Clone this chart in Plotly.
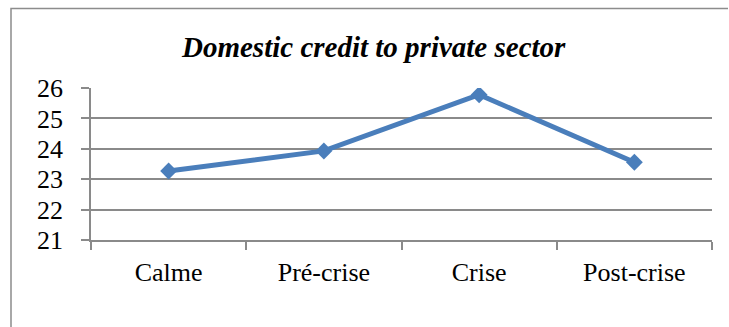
import plotly.graph_objects as go

# Data
categories = ["Calme", "Pré-crise", "Crise", "Post-crise"]
credit_values = [23.27, 23.93, 25.78, 23.56]
y_ticks = [21, 22, 23, 24, 25, 26]
title_text = "Domestic credit to private sector"

W, H = 729, 327
L, R, T, B = 91, 17, 88, 87
plot_w = W - L - R
plot_h = H - T - B


def px_to_paper_x(px):
    return (px - L) / plot_w


def px_to_paper_y(py):
    return (H - B - py) / plot_h


AXIS_GREY = "#8a8a8a"
SERIF = "Liberation Serif"

fig = go.Figure()
fig.add_trace(go.Scatter(
    x=categories,
    y=credit_values,
    mode="lines+markers",
    line=dict(color="#4a7ebb", width=5),
    marker=dict(symbol="diamond", size=13, color="#4a7ebb"),
    hoverinfo="x+y",
    showlegend=False,
))

fig.update_layout(
    width=W,
    height=H,
    margin=dict(l=L, r=R, t=T, b=B, pad=0),
    paper_bgcolor="white",
    plot_bgcolor="white",
    font=dict(family=SERIF, size=26, color="black"),
    xaxis=dict(
        type="category",
        range=[-0.5, 3.5],
        tickson="boundaries",
        ticks="outside",
        ticklen=8,
        tickwidth=1.5,
        tickcolor=AXIS_GREY,
        showgrid=False,
        showline=True,
        linecolor=AXIS_GREY,
        linewidth=1.5,
        zeroline=False,
        ticklabelstandoff=8,
        tickfont=dict(family=SERIF, size=26, color="black"),
    ),
    yaxis=dict(
        range=[21, 26],
        tickvals=y_ticks,
        ticks="outside",
        ticklen=8,
        tickwidth=1.5,
        tickcolor=AXIS_GREY,
        showgrid=True,
        gridcolor=AXIS_GREY,
        gridwidth=1.5,
        showline=True,
        linecolor=AXIS_GREY,
        linewidth=1.5,
        zeroline=False,
        ticklabelstandoff=13,
        tickfont=dict(family=SERIF, size=26, color="black"),
    ),
)

# Chart title
fig.add_annotation(
    text="<b><i>" + title_text + "</i></b>",
    xref="paper", yref="paper",
    x=px_to_paper_x(373), y=px_to_paper_y(47),
    xanchor="center", yanchor="middle",
    showarrow=False,
    font=dict(family=SERIF, size=29, color="black"),
)

# Chart-area frame: left and top edges only, the rest lies off the page
x_left, x_right = px_to_paper_x(11), px_to_paper_x(728)
y_top, y_bottom = px_to_paper_y(8.5), px_to_paper_y(340)
fig.add_shape(
    type="path",
    xref="paper", yref="paper",
    path=f"M {x_left},{y_bottom} L {x_left},{y_top} L {x_right},{y_top}",
    line=dict(color="#8c8c8c", width=1.5),
    layer="below",
)

fig.write_html("out.html", config={"displayModeBar": False})
